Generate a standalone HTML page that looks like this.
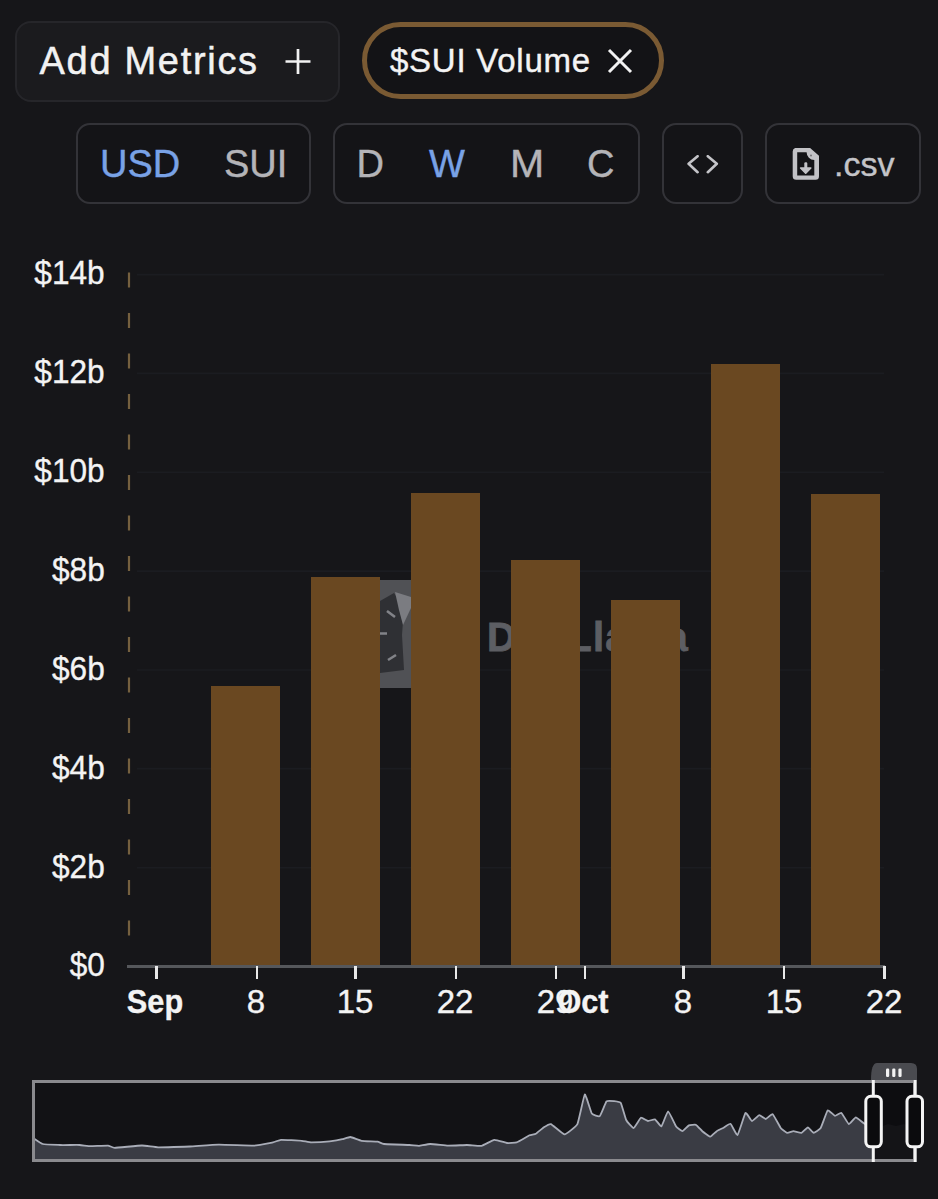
<!DOCTYPE html>
<html><head><meta charset="utf-8">
<style>
html,body{margin:0;padding:0;}
body{width:938px;height:1199px;background:#161619;position:relative;overflow:hidden;font-family:"Liberation Sans",sans-serif;color:#fff;}
.abs{position:absolute;}
.btn{position:absolute;box-sizing:border-box;}
#add{left:15px;top:21px;width:325px;height:81px;border:2px solid #26262a;background:#1b1b1e;border-radius:16px;}
#add .t{position:absolute;left:22.5px;top:18px;font-size:38px;letter-spacing:1.7px;-webkit-text-stroke:0.5px #f2f2f2;line-height:40px;color:#f2f2f2;white-space:nowrap;}
#pill{left:362px;top:22px;width:302px;height:77px;border:5px solid #7a5a33;background:#131316;border-radius:40px;}
.grp{position:absolute;box-sizing:border-box;border:2px solid #333338;border-radius:14px;background:#141417;top:123px;height:81px;}
.lbl{position:absolute;font-size:38px;line-height:40px;white-space:nowrap;-webkit-text-stroke:0.4px currentColor;}
.ylab{position:absolute;right:833px;font-size:34px;line-height:36px;transform:scaleX(0.93);transform-origin:right center;-webkit-text-stroke:0.35px #f4f4f4;color:#f4f4f4;text-align:right;white-space:nowrap;}
.xlab{position:absolute;font-size:33px;line-height:34px;color:#f4f4f4;-webkit-text-stroke:0.35px #f4f4f4;white-space:nowrap;transform:translateX(-50%);}
.xb{font-weight:bold;transform:translateX(-50%) scaleX(0.93);}
.bar{position:absolute;background:#6a4821;width:69px;}
.tick{position:absolute;width:2.5px;height:13px;top:966px;background:#e8e8e8;}
</style></head>
<body>
<!-- Top row -->
<div class="btn" id="add"><div class="t">Add Metrics</div>
  <svg class="abs" style="left:267px;top:24px" width="28" height="28" viewBox="0 0 28 28"><path d="M14 2V27M1.5 14.5H26.5" stroke="#f2f2f2" stroke-width="2.7"/></svg>
</div>
<div class="btn" id="pill"><div class="lbl" style="left:23px;top:14px;font-size:33px;letter-spacing:0.75px;color:#f4f4f4">$SUI Volume</div>
  <svg class="abs" style="left:240px;top:21px" width="26" height="26" viewBox="0 0 26 26"><path d="M2 2L24 24M24 2L2 24" stroke="#f2f2f2" stroke-width="3"/></svg>
</div>

<!-- Second row -->
<div class="grp" style="left:76px;width:235px;">
  <div class="lbl" style="left:22px;top:19px;color:#79a2e6;">USD</div>
  <div class="lbl" style="left:146px;top:19px;color:#b4b4b8;">SUI</div>
</div>
<div class="grp" style="left:333px;width:307px;">
  <div class="lbl" style="left:21.5px;top:19px;color:#b4b4b8;">D</div>
  <div class="lbl" style="left:94px;top:19px;color:#79a2e6;">W</div>
  <div class="lbl" style="left:175px;top:19px;color:#b4b4b8;transform:scaleX(1.08);transform-origin:left">M</div>
  <div class="lbl" style="left:252px;top:19px;color:#b4b4b8;">C</div>
</div>
<div class="grp" style="left:662px;width:81px;">
  <svg class="abs" style="left:23px;top:30px" width="36" height="22" viewBox="0 0 36 22"><path d="M10.6 1.2L1.6 8.8L10.6 17.2M20.8 1.2L29.8 8.8L20.8 17.2" stroke="#c4c4c8" stroke-width="2.6" fill="none" stroke-linecap="round" stroke-linejoin="round"/></svg>
</div>
<div class="grp" style="left:765px;width:156px;">
  <svg class="abs" style="left:25px;top:23px" width="30" height="34" viewBox="0 0 30 34"><path fill-rule="evenodd" fill="#c2c2c6" d="M0.7 3.5Q0.7 -0.1 4.2 -0.1L18 -0.1L27 7.8L27 28.3Q27 31.8 23.5 31.8L4.2 31.8Q0.7 31.8 0.7 28.3Z M5.2 4.2L14.6 4.2A7.7 7.7 0 0 0 22.3 11.9L22.3 27.5L5.2 27.5Z"/><rect x="12.3" y="14.3" width="3" height="8" rx="1.2" fill="#c2c2c6"/><path d="M8.6 20L18.8 20L13.7 25.2Z" fill="#c2c2c6" stroke="#c2c2c6" stroke-width="1.6" stroke-linejoin="round"/><circle cx="19" cy="7.5" r="0.9" fill="#6a6a6e"/></svg>
  <div class="lbl" style="left:67px;top:19px;color:#c4c4c8;font-size:34px;">.csv</div>
</div>

<!-- Chart -->
<svg class="abs" style="left:0;top:0" width="938" height="1199">
  <g stroke="#1b1c21" stroke-width="1.6"><line x1="137" y1="274.6" x2="884" y2="274.6"/><line x1="137" y1="373.4" x2="884" y2="373.4"/><line x1="137" y1="472.3" x2="884" y2="472.3"/><line x1="137" y1="571.1" x2="884" y2="571.1"/><line x1="137" y1="670" x2="884" y2="670"/><line x1="137" y1="768.6" x2="884" y2="768.6"/><line x1="137" y1="867.7" x2="884" y2="867.7"/></g>
  <line x1="129" y1="272.6" x2="129" y2="950" stroke="#75603f" stroke-width="2.2" stroke-dasharray="15 25.5"/>
</svg>

<div class="ylab" style="top:254.4px">$14b</div>
<div class="ylab" style="top:353.3px">$12b</div>
<div class="ylab" style="top:452.1px">$10b</div>
<div class="ylab" style="top:551px">$8b</div>
<div class="ylab" style="top:649.8px">$6b</div>
<div class="ylab" style="top:748.7px">$4b</div>
<div class="ylab" style="top:847.5px">$2b</div>
<div class="ylab" style="top:946.4px">$0</div>


<!-- watermark -->
<div class="abs" style="left:360px;top:580px;width:108px;height:108px;background:#505155;overflow:hidden">
  <svg width="108" height="108" viewBox="0 0 108 108"><path d="M0 30L20 21L34 13L44 28L42 55L44 90L20 93L0 95Z" fill="#2f3034"/><path d="M35 12L51 17L51 28L43 45L39 30Z" fill="#7b7c81"/><path d="M27 31L35 37M20 53.5L27 53.5M28 80L36 75" stroke="#828388" stroke-width="2.6"/></svg>
</div>
<div class="abs" style="left:487px;top:617px;font-size:40px;letter-spacing:1.2px;line-height:40px;font-weight:bold;color:#5d5e63;-webkit-text-stroke:0.8px #5d5e63;white-space:nowrap">DefiLlama</div>
<div class="bar" style="left:211px;top:686px;height:280px"></div>
<div class="bar" style="left:311px;top:577px;height:389px"></div>
<div class="bar" style="left:411px;top:493px;height:473px"></div>
<div class="bar" style="left:511px;top:560px;height:406px"></div>
<div class="bar" style="left:611px;top:600px;height:366px"></div>
<div class="bar" style="left:711px;top:364px;height:602px"></div>
<div class="bar" style="left:811px;top:494px;height:472px"></div>

<div class="abs" style="left:127px;top:964.5px;width:758px;height:3px;background:#55575b"></div>
<div class="tick" style="left:155px"></div>
<div class="tick" style="left:255.5px"></div>
<div class="tick" style="left:354px"></div>
<div class="tick" style="left:454.5px"></div>
<div class="tick" style="left:554.5px"></div>
<div class="tick" style="left:583.5px"></div>
<div class="tick" style="left:682px"></div>
<div class="tick" style="left:782.5px"></div>
<div class="tick" style="left:883px"></div>

<div class="xlab xb" style="left:155px;top:985px">Sep</div>
<div class="xlab" style="left:256px;top:985px">8</div>
<div class="xlab" style="left:355px;top:985px">15</div>
<div class="xlab" style="left:455px;top:985px">22</div>
<div class="xlab" style="left:555px;top:985px">29</div>
<div class="xlab xb" style="left:583px;top:985px">Oct</div>
<div class="xlab" style="left:683px;top:985px">8</div>
<div class="xlab" style="left:784px;top:985px">15</div>
<div class="xlab" style="left:884px;top:985px">22</div>

<!-- brush -->
<svg class="abs" style="left:0;top:0" width="938" height="1199">
  <rect x="34.5" y="1082" width="880" height="78" fill="#121215"/>
  <path d="M34 1138.5 C34.5 1138.8 41.3 1143.6 42.8 1144 C44.3 1144.4 57.9 1144.9 60 1145 C62.1 1145.1 77.8 1144.9 79.6 1145 C81.4 1145.1 89.1 1146.2 90.8 1146.2 C92.5 1146.2 106.6 1145.5 108 1145.6 C109.4 1145.7 112.7 1147.8 114.7 1147.8 C116.7 1147.8 139.5 1145.5 142 1145.5 C144.5 1145.5 155.2 1147.2 158 1147.3 C160.8 1147.4 186.5 1146.7 190 1146.5 C193.5 1146.3 215.0 1144.7 218.7 1144.6 C222.4 1144.5 250.7 1145.7 253.9 1145.6 C257.1 1145.5 271.4 1142.7 273 1142.4 C274.6 1142.1 279.3 1139.9 281 1139.8 C282.7 1139.7 300.0 1140.6 301.8 1140.8 C303.6 1141.0 309.8 1142.4 311.4 1142.4 C313.0 1142.4 327.8 1141.6 329.6 1141.4 C331.4 1141.2 341.2 1139.5 342.4 1139.2 C343.6 1138.9 349.3 1136.9 350.4 1137 C351.5 1137.1 360.0 1140.5 361.6 1140.8 C363.2 1141.1 376.3 1141.5 377.6 1141.7 C378.9 1141.9 382.1 1143.8 384 1144 C385.9 1144.2 407.5 1144.9 409.5 1145 C411.5 1145.1 417.8 1146.0 419 1145.9 C420.2 1145.8 428.6 1144.0 430.3 1144 C432.0 1144.0 445.8 1145.5 447.9 1145.6 C450.0 1145.7 465.0 1145.0 467 1145 C469.0 1145.0 479.9 1146.2 481.5 1145.9 C483.1 1145.6 492.8 1140.0 494.3 1139.8 C495.8 1139.6 505.7 1142.8 507 1143 C508.3 1143.2 515.4 1142.8 516.7 1142.4 C518.0 1142.0 528.4 1135.8 529.5 1135.3 C530.6 1134.8 535.1 1134.2 535.9 1133.7 C536.7 1133.2 543.0 1127.9 543.9 1127.3 C544.8 1126.7 549.7 1123.7 550.9 1124.1 C552.1 1124.5 563.1 1134.4 564.6 1134.4 C566.1 1134.4 576.2 1126.4 577.4 1124.1 C578.6 1121.8 584.0 1095.0 584.8 1094.4 C585.6 1093.8 590.9 1112.3 591.8 1113.6 C592.7 1114.9 598.9 1116.8 599.8 1116.1 C600.7 1115.4 605.7 1102.3 606.5 1101.4 C607.3 1100.5 613.2 1101.1 614 1101.2 C614.8 1101.3 620.1 1101.9 620.8 1103 C621.5 1104.1 625.5 1118.5 626.2 1120 C626.9 1121.5 632.7 1128.1 633.6 1128 C634.5 1127.9 640.1 1118.1 640.9 1117.7 C641.7 1117.3 647.2 1120.9 648 1121 C648.8 1121.1 654.2 1119.0 655 1119.3 C655.8 1119.6 660.6 1126.9 661.4 1126.4 C662.2 1125.9 667.2 1111.3 668.1 1111.3 C669.0 1111.3 675.3 1125.2 676.1 1126.4 C676.9 1127.6 681.8 1131.3 682.5 1131.2 C683.2 1131.1 688.1 1125.8 688.9 1125.4 C689.7 1125.0 695.1 1124.5 695.9 1124.8 C696.7 1125.1 701.5 1130.5 702.3 1131.2 C703.1 1131.9 709.5 1136.6 710.3 1136.6 C711.1 1136.6 716.0 1131.7 716.7 1131.2 C717.4 1130.7 722.3 1128.4 723.1 1128 C723.9 1127.6 729.7 1123.4 730.5 1123.8 C731.3 1124.2 736.6 1135.6 737.5 1135 C738.4 1134.4 744.7 1113.7 745.5 1112.9 C746.3 1112.1 751.1 1120.9 751.9 1121 C752.7 1121.1 758.5 1115.3 759.3 1115.2 C760.1 1115.1 764.9 1119.1 765.7 1119 C766.5 1118.9 771.8 1113.7 772.7 1114.2 C773.6 1114.7 779.9 1126.9 780.7 1128 C781.5 1129.1 786.4 1132.6 787.1 1132.8 C787.8 1133.0 792.7 1131.2 793.5 1131.2 C794.3 1131.2 800.7 1133.0 801.5 1132.8 C802.3 1132.6 807.2 1127.3 807.9 1127.3 C808.6 1127.3 812.9 1132.8 813.6 1132.8 C814.3 1132.8 819.9 1129.3 820.7 1128 C821.5 1126.7 826.9 1111.1 827.7 1110.4 C828.5 1109.7 834.2 1115.7 835 1115.8 C835.8 1115.9 840.6 1112.4 841.4 1112.9 C842.2 1113.4 848.0 1123.8 848.8 1124.1 C849.6 1124.4 854.9 1117.4 855.8 1117.4 C856.7 1117.4 863.8 1123.4 864.8 1123.8 C865.8 1124.2 872.5 1124.9 873 1125 L873 1159 L34 1159 Z" fill="#3a3c44"/>
  <path d="M34 1138.5 C34.5 1138.8 41.3 1143.6 42.8 1144 C44.3 1144.4 57.9 1144.9 60 1145 C62.1 1145.1 77.8 1144.9 79.6 1145 C81.4 1145.1 89.1 1146.2 90.8 1146.2 C92.5 1146.2 106.6 1145.5 108 1145.6 C109.4 1145.7 112.7 1147.8 114.7 1147.8 C116.7 1147.8 139.5 1145.5 142 1145.5 C144.5 1145.5 155.2 1147.2 158 1147.3 C160.8 1147.4 186.5 1146.7 190 1146.5 C193.5 1146.3 215.0 1144.7 218.7 1144.6 C222.4 1144.5 250.7 1145.7 253.9 1145.6 C257.1 1145.5 271.4 1142.7 273 1142.4 C274.6 1142.1 279.3 1139.9 281 1139.8 C282.7 1139.7 300.0 1140.6 301.8 1140.8 C303.6 1141.0 309.8 1142.4 311.4 1142.4 C313.0 1142.4 327.8 1141.6 329.6 1141.4 C331.4 1141.2 341.2 1139.5 342.4 1139.2 C343.6 1138.9 349.3 1136.9 350.4 1137 C351.5 1137.1 360.0 1140.5 361.6 1140.8 C363.2 1141.1 376.3 1141.5 377.6 1141.7 C378.9 1141.9 382.1 1143.8 384 1144 C385.9 1144.2 407.5 1144.9 409.5 1145 C411.5 1145.1 417.8 1146.0 419 1145.9 C420.2 1145.8 428.6 1144.0 430.3 1144 C432.0 1144.0 445.8 1145.5 447.9 1145.6 C450.0 1145.7 465.0 1145.0 467 1145 C469.0 1145.0 479.9 1146.2 481.5 1145.9 C483.1 1145.6 492.8 1140.0 494.3 1139.8 C495.8 1139.6 505.7 1142.8 507 1143 C508.3 1143.2 515.4 1142.8 516.7 1142.4 C518.0 1142.0 528.4 1135.8 529.5 1135.3 C530.6 1134.8 535.1 1134.2 535.9 1133.7 C536.7 1133.2 543.0 1127.9 543.9 1127.3 C544.8 1126.7 549.7 1123.7 550.9 1124.1 C552.1 1124.5 563.1 1134.4 564.6 1134.4 C566.1 1134.4 576.2 1126.4 577.4 1124.1 C578.6 1121.8 584.0 1095.0 584.8 1094.4 C585.6 1093.8 590.9 1112.3 591.8 1113.6 C592.7 1114.9 598.9 1116.8 599.8 1116.1 C600.7 1115.4 605.7 1102.3 606.5 1101.4 C607.3 1100.5 613.2 1101.1 614 1101.2 C614.8 1101.3 620.1 1101.9 620.8 1103 C621.5 1104.1 625.5 1118.5 626.2 1120 C626.9 1121.5 632.7 1128.1 633.6 1128 C634.5 1127.9 640.1 1118.1 640.9 1117.7 C641.7 1117.3 647.2 1120.9 648 1121 C648.8 1121.1 654.2 1119.0 655 1119.3 C655.8 1119.6 660.6 1126.9 661.4 1126.4 C662.2 1125.9 667.2 1111.3 668.1 1111.3 C669.0 1111.3 675.3 1125.2 676.1 1126.4 C676.9 1127.6 681.8 1131.3 682.5 1131.2 C683.2 1131.1 688.1 1125.8 688.9 1125.4 C689.7 1125.0 695.1 1124.5 695.9 1124.8 C696.7 1125.1 701.5 1130.5 702.3 1131.2 C703.1 1131.9 709.5 1136.6 710.3 1136.6 C711.1 1136.6 716.0 1131.7 716.7 1131.2 C717.4 1130.7 722.3 1128.4 723.1 1128 C723.9 1127.6 729.7 1123.4 730.5 1123.8 C731.3 1124.2 736.6 1135.6 737.5 1135 C738.4 1134.4 744.7 1113.7 745.5 1112.9 C746.3 1112.1 751.1 1120.9 751.9 1121 C752.7 1121.1 758.5 1115.3 759.3 1115.2 C760.1 1115.1 764.9 1119.1 765.7 1119 C766.5 1118.9 771.8 1113.7 772.7 1114.2 C773.6 1114.7 779.9 1126.9 780.7 1128 C781.5 1129.1 786.4 1132.6 787.1 1132.8 C787.8 1133.0 792.7 1131.2 793.5 1131.2 C794.3 1131.2 800.7 1133.0 801.5 1132.8 C802.3 1132.6 807.2 1127.3 807.9 1127.3 C808.6 1127.3 812.9 1132.8 813.6 1132.8 C814.3 1132.8 819.9 1129.3 820.7 1128 C821.5 1126.7 826.9 1111.1 827.7 1110.4 C828.5 1109.7 834.2 1115.7 835 1115.8 C835.8 1115.9 840.6 1112.4 841.4 1112.9 C842.2 1113.4 848.0 1123.8 848.8 1124.1 C849.6 1124.4 854.9 1117.4 855.8 1117.4 C856.7 1117.4 863.8 1123.4 864.8 1123.8 C865.8 1124.2 872.5 1124.9 873 1125" fill="none" stroke="#a9adb8" stroke-width="1.8"/>
  <rect x="873" y="1082" width="42" height="78" fill="#0d0d10"/>
  <path d="M873 1125 L880 1127 L888 1124 L896 1126 L904 1124 L915 1127 L915 1159 L873 1159Z" fill="#141417"/>
  <rect x="33.5" y="1081.5" width="881" height="79" fill="none" stroke="#8a8a8e" stroke-width="3"/>
  <path d="M871 1080 Q871 1063 877 1063 L911 1063 Q917 1063 917 1069 L917 1080 Z" fill="#4a4b50"/>
  <rect x="886" y="1068.5" width="3.2" height="8.5" rx="1.2" fill="#f2f2f2"/>
  <rect x="892.2" y="1068.5" width="3.2" height="8.5" rx="1.2" fill="#f2f2f2"/>
  <rect x="898.4" y="1068.5" width="3.2" height="8.5" rx="1.2" fill="#f2f2f2"/>
  <line x1="873.3" y1="1080" x2="873.3" y2="1162" stroke="#f4f4f4" stroke-width="3"/>
  <line x1="915.2" y1="1080" x2="915.2" y2="1162" stroke="#f4f4f4" stroke-width="3"/>
  <rect x="865.8" y="1096.3" width="15.5" height="50.5" rx="5" fill="#0b0b0d" stroke="#f4f4f4" stroke-width="3"/>
  <rect x="907" y="1096.3" width="15.5" height="50.5" rx="5" fill="#0b0b0d" stroke="#f4f4f4" stroke-width="3"/>
</svg>

</body></html>
